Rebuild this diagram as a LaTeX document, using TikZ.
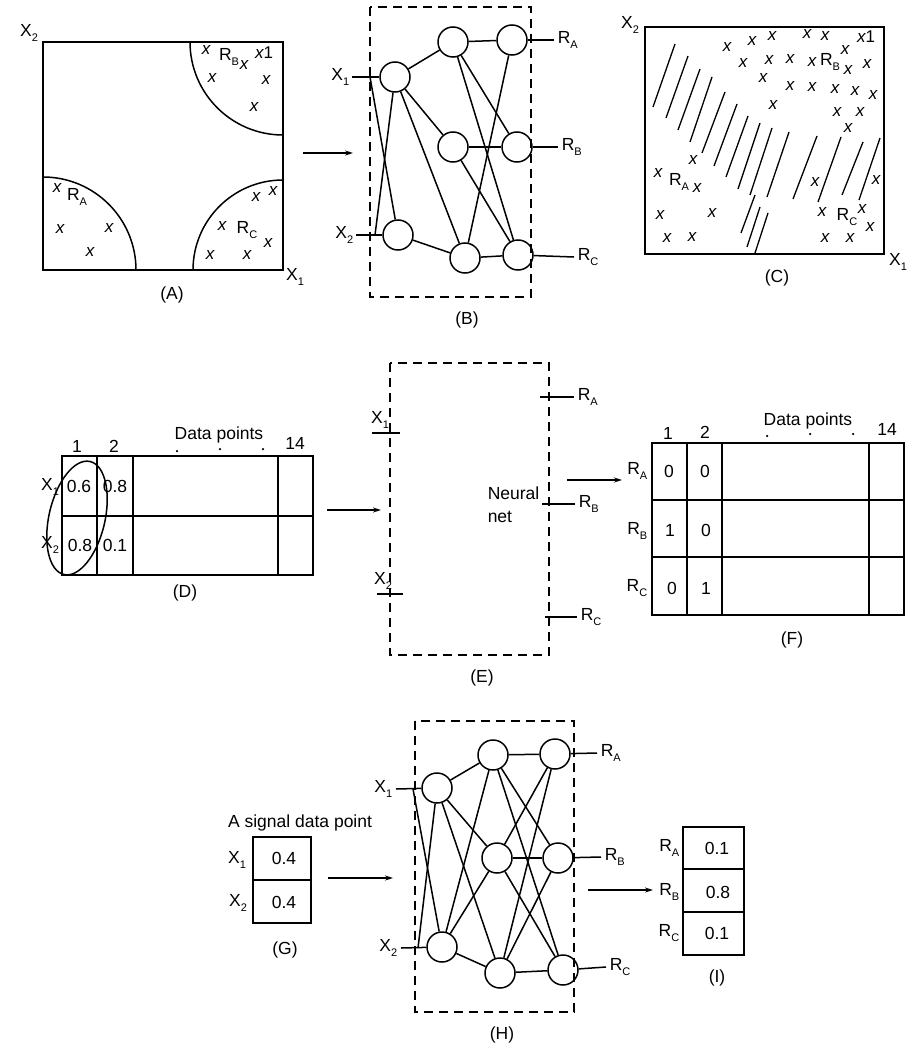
\documentclass[tikz,border=0pt]{standalone}
\usepackage{fontspec}
\setmainfont{Liberation Sans}
\usetikzlibrary{arrows.meta}
\newcommand{\sbs}[1]{\raisebox{-0.55ex}{\fontsize{11}{11}\selectfont #1}}
\begin{document}
\begin{tikzpicture}[x=1pt,y=-1pt, line width=1.5pt,
  lbl/.style={inner sep=0pt, font=\fontsize{17.5}{20}\selectfont},
  xm/.style={inner sep=0pt, font=\fontsize{17}{17}\selectfont\itshape},
  neuron/.style={circle, draw, minimum size=30pt, inner sep=0pt},
  dbox/.style={dash pattern=on 9pt off 6pt},
  arr/.style={-{Stealth[length=8pt,width=5pt]}, line width=1.3pt},
  hatch/.style={line width=1.3pt},
  dotm/.style={circle, fill, inner sep=0pt, minimum size=2.5pt}]
\useasboundingbox (0,0) rectangle (913,1046);

% ---------------- Panel A ----------------
\draw (43,42) rectangle (283,270);
\begin{scope}
  \clip (43,42) rectangle (283,270);
  \draw (283,42) circle[radius=93pt];
  \draw (43,270) circle[radius=93pt];
  \draw (283,270) circle[radius=90pt];
\end{scope}
\node[lbl] (aX2) at (29,33) {X\sbs{2}};
\node[lbl] (aX1) at (295,277) {X\sbs{1}};
\node[lbl] (aLab) at (172,295) {(A)};
\node[lbl] (aRB) at (229,57) {R\sbs{B}};
\node[lbl] (aRA) at (77,197) {R\sbs{A}};
\node[lbl] (aRC) at (247,230) {R\sbs{C}};
\foreach \p [count=\i] in {(206,50),(244,65),(212,78),(266,80),(254,107),(57,188),(60,229),(109,228),(90,252),(256,197),(273,191),(222,226),(268,243),(210,255),(247,255)}
  \node[xm] (ax\i) at \p {x};
\node[xm] (ax16) at (264,53) {x\upshape 1};

% arrow A -> B
\coordinate (abS) at (303,153);
\coordinate (abE) at (353,153);
\draw[arr] (abS) -- (abE);

% ---------------- Panel B ----------------
\draw[dbox] (370,7) rectangle (531,297);
\node[neuron] (bI1) at (395,77) {};
\node[neuron] (bI2) at (398,235) {};
\node[neuron] (bH1) at (453,42) {};
\node[neuron] (bH2) at (453,147) {};
\node[neuron] (bH3) at (465,258) {};
\node[neuron] (bO1) at (512,40) {};
\node[neuron] (bO2) at (517,147) {};
\node[neuron] (bO3) at (518,255) {};
\node[lbl, anchor=east] (bX1) at (350,77) {X\sbs{1}};
\node[lbl, anchor=east] (bX2) at (354,235) {X\sbs{2}};
\coordinate (bj1) at (370,77);
\coordinate (bj2) at (375,235);
\draw ([xshift=2pt]bX1.east) -- (bI1);
\draw ([xshift=2pt]bX2.east) -- (bI2);
\draw (bj1) -- (bI2);
\draw (bj2) -- (bI1);
\foreach \a/\b in {bI1/bH1,bI1/bH2,bI1/bH3,bI2/bH3,bH1/bO1,bH1/bO2,bH1/bO3,bH2/bO2,bH2/bO3,bH3/bO1,bH3/bO3}
  \draw (\a) -- (\b);
\node[lbl, anchor=west] (bRA) at (557,40) {R\sbs{A}};
\node[lbl, anchor=west] (bRB) at (561,147) {R\sbs{B}};
\node[lbl, anchor=west] (bRC) at (577,257) {R\sbs{C}};
\draw (bO1) -- ([xshift=-3pt]bRA.west);
\draw (bO2) -- ([xshift=-3pt]bRB.west);
\draw (bO3) -- ([xshift=-3pt]bRC.west);
\node[lbl] (bLab) at (467,320) {(B)};

% ---------------- Panel C ----------------
\draw (645,27) rectangle (884,254);
\node[lbl] (cX2) at (630,25) {X\sbs{2}};
\node[lbl] (cX1) at (898,262) {X\sbs{1}};
\node[lbl] (cLab) at (777,278) {(C)};
\foreach \p [count=\i] in {(727,47),(752,41),(772,36),(807,34),(825,36),(845,50),(743,63),(769,60),(790,59),(812,62),(848,70),(867,64),(763,78),(790,86),(812,87),(835,89),(855,91),(873,95),(773,105),(837,112),(860,112),(848,128),(693,160),(658,173),(697,188),(660,215),(712,213),(667,238),(692,237),(815,182),(876,180),(822,212),(862,209),(870,227),(825,238),(850,238)}
  \node[xm] (cx\i) at \p {x};
\node[xm] (cx37) at (866,37) {x\upshape 1};
\node[lbl] (cRB) at (830,62) {R\sbs{B}};
\node[lbl] (cRA) at (679,182) {R\sbs{A}};
\node[lbl] (cRC) at (847,217) {R\sbs{C}};
\foreach \a/\b in {{(653,107)}/{(675,44)},{(666,118)}/{(688,56)},{(678,130)}/{(700,69)},{(690,142)}/{(712,77)},{(702,153)}/{(725,92)},{(714,166)}/{(737,104)},{(726,177)}/{(748,116)},{(738,189)}/{(760,123)},{(750,195)}/{(772,128)},{(767,197)}/{(789,132)},{(793,199)}/{(817,136)},{(818,202)}/{(841,137)},{(842,195)}/{(863,142)},{(859,200)}/{(880,138)},{(741,233)}/{(755,195)},{(747,247)}/{(760,207)},{(755,253)}/{(768,213)}}
  \draw[hatch] \a -- \b;

% ---------------- Panel D ----------------
\draw (62,456) rectangle (313,575);
\draw (97,456) -- (97,575);
\draw (133,456) -- (133,575);
\draw (278,456) -- (278,575);
\draw (62,516) -- (313,516);
\node[lbl] (d1) at (77,446) {1};
\node[lbl] (d2) at (114,446) {2};
\node[lbl] (dDP) at (219,435) {Data points};
\node[dotm] (dd1) at (177,451) {};
\node[dotm] (dd2) at (220,449) {};
\node[dotm] (dd3) at (263,449) {};
\node[lbl] (d14) at (295,443) {14};
\node[lbl] (dX1) at (50,487) {X\sbs{1}};
\node[lbl] (dX2) at (50,545) {X\sbs{2}};
\node[lbl] (dv11) at (79,486) {0.6};
\node[lbl] (dv12) at (115,486) {0.8};
\node[lbl] (dv21) at (80,545) {0.8};
\node[lbl] (dv22) at (115,545) {0.1};
\draw (77,518) circle[x radius=58pt, y radius=28pt, rotate=77];
\node[lbl] (dLab) at (185,593) {(D)};

% arrow D -> E
\coordinate (deS) at (327,510);
\coordinate (deE) at (381,510);
\draw[arr] (deS) -- (deE);

% ---------------- Panel E ----------------
\draw[dbox] (390,363) rectangle (549,655);
\node[lbl] (eX1) at (380,420) {X\sbs{1}};
\coordinate (eX1a) at (372,433);
\coordinate (eX1b) at (400,433);
\draw (eX1a) -- (eX1b);
\node[lbl] (eX2) at (383,581) {X\sbs{2}};
\coordinate (eX2a) at (377,594);
\coordinate (eX2b) at (403,594);
\draw (eX2a) -- (eX2b);
\node[lbl, anchor=west] (eRA) at (577,397) {R\sbs{A}};
\node[lbl, anchor=west] (eRB) at (578,504) {R\sbs{B}};
\node[lbl, anchor=west] (eRC) at (580,617) {R\sbs{C}};
\coordinate (eRAa) at (540,397);
\coordinate (eRBa) at (542,504);
\coordinate (eRCa) at (545,617);
\draw (eRAa) -- ([xshift=-3pt]eRA.west);
\draw (eRBa) -- ([xshift=-3pt]eRB.west);
\draw (eRCa) -- ([xshift=-3pt]eRC.west);
\node[lbl, anchor=north west, align=left, font=\fontsize{17.5}{23}\selectfont] (eNN) at (487,486) {Neural\\net};
\node[lbl] (eLab) at (482,678) {(E)};

% arrow E -> F
\coordinate (efS) at (567,480);
\coordinate (efE) at (622,480);
\draw[arr] (efS) -- (efE);

% ---------------- Panel F ----------------
\draw (652,443) rectangle (904,615);
\draw (652,500) -- (904,500);
\draw (652,557) -- (904,557);
\draw (687,443) -- (687,615);
\draw (722,443) -- (722,615);
\draw (869,443) -- (869,615);
\node[lbl] (f1) at (668,433) {1};
\node[lbl] (f2) at (705,432) {2};
\node[lbl] (fDP) at (808,421) {Data points};
\node[dotm] (fd1) at (767,436) {};
\node[dotm] (fd2) at (810,434) {};
\node[dotm] (fd3) at (853,434) {};
\node[lbl] (f14) at (887,429) {14};
\node[lbl, anchor=east] (fRA) at (648,471) {R\sbs{A}};
\node[lbl, anchor=east] (fRB) at (648,531) {R\sbs{B}};
\node[lbl, anchor=east] (fRC) at (648,588) {R\sbs{C}};
\node[lbl] (fv11) at (669,471) {0};
\node[lbl] (fv12) at (705,471) {0};
\node[lbl] (fv21) at (670,530) {1};
\node[lbl] (fv22) at (706,530) {0};
\node[lbl] (fv31) at (672,588) {0};
\node[lbl] (fv32) at (706,588) {1};
\node[lbl] (fLab) at (792,640) {(F)};

% ---------------- Panel G ----------------
\node[lbl] (gT) at (300,823) {A signal data point};
\draw (253,837) rectangle (311,923);
\draw (253,880) -- (311,880);
\node[lbl] (gX1) at (237,860) {X\sbs{1}};
\node[lbl] (gX2) at (238,903) {X\sbs{2}};
\node[lbl] (gv1) at (284,858) {0.4};
\node[lbl] (gv2) at (284,902) {0.4};
\node[lbl] (gLab) at (285,950) {(G)};

% arrow G -> H
\coordinate (ghS) at (328,878);
\coordinate (ghE) at (393,878);
\draw[arr] (ghS) -- (ghE);

% ---------------- Panel H ----------------
\draw[dbox] (415,721) rectangle (574,1012);
\node[neuron] (hI1) at (437,788) {};
\node[neuron] (hI2) at (442,947) {};
\node[neuron] (hH1) at (493,755) {};
\node[neuron] (hH2) at (497,858) {};
\node[neuron] (hH3) at (500,973) {};
\node[neuron] (hO1) at (555,754) {};
\node[neuron] (hO2) at (558,858) {};
\node[neuron] (hO3) at (563,970) {};
\node[lbl, anchor=east] (hX1) at (393,789) {X\sbs{1}};
\node[lbl, anchor=east] (hX2) at (398,948) {X\sbs{2}};
\coordinate (hj1) at (413,789);
\coordinate (hj2) at (418,948);
\draw ([xshift=3pt]hX1.east) -- (hI1);
\draw ([xshift=3pt]hX2.east) -- (hI2);
\draw (hj1) -- (hI2);
\draw (hj2) -- (hI1);
\foreach \a in {hI1,hI2}
  \foreach \b in {hH1,hH2,hH3}
    \draw (\a) -- (\b);
\foreach \a in {hH1,hH2,hH3}
  \foreach \b in {hO1,hO2,hO3}
    \draw (\a) -- (\b);
\node[lbl, anchor=west] (hRA) at (600,753) {R\sbs{A}};
\node[lbl, anchor=west] (hRB) at (604,857) {R\sbs{B}};
\node[lbl, anchor=west] (hRC) at (609,967) {R\sbs{C}};
\draw (hO1) -- ([xshift=-3pt]hRA.west);
\draw (hO2) -- ([xshift=-3pt]hRB.west);
\draw (hO3) -- ([xshift=-3pt]hRC.west);
\node[lbl] (hLab) at (502,1035) {(H)};

% arrow H -> I
\coordinate (hiS) at (588,890);
\coordinate (hiE) at (653,890);
\draw[arr] (hiS) -- (hiE);

% ---------------- Panel I ----------------
\draw (683,827) rectangle (744,955);
\draw (683,869) -- (744,869);
\draw (683,912) -- (744,912);
\node[lbl, anchor=east] (iRA) at (680,848) {R\sbs{A}};
\node[lbl, anchor=east] (iRB) at (680,892) {R\sbs{B}};
\node[lbl, anchor=east] (iRC) at (680,933) {R\sbs{C}};
\node[lbl] (iv1) at (717,848) {0.1};
\node[lbl] (iv2) at (718,892) {0.8};
\node[lbl] (iv3) at (717,933) {0.1};
\node[lbl] (iLab) at (717,978) {(I)};
\end{tikzpicture}
\end{document}
